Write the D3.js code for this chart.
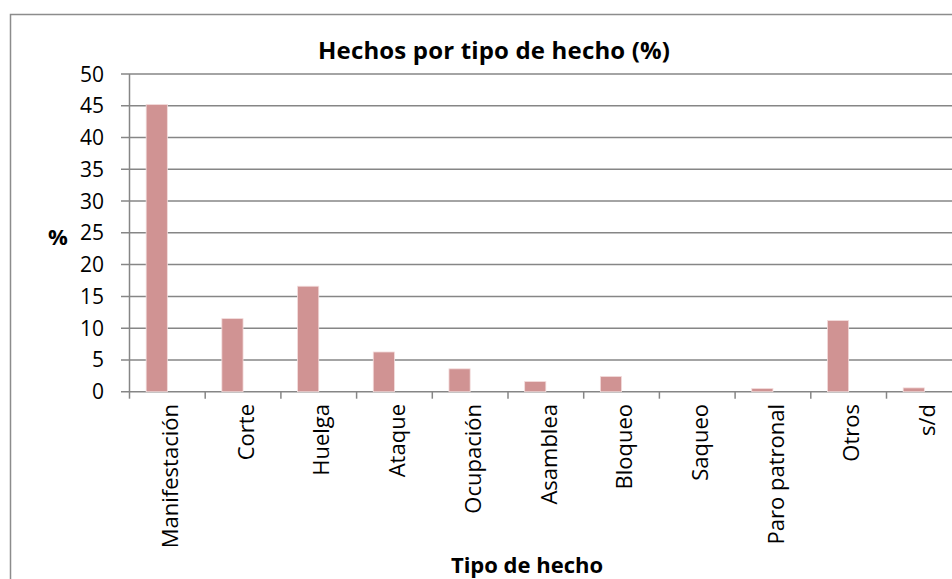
<!DOCTYPE html>
<html>
<head>
<meta charset="utf-8">
<script src="https://cdn.jsdelivr.net/npm/d3@7"></script>
<style>
  body { margin: 0; background: #fff; }
  svg { display: block; font-family: "Open Sans", sans-serif; }
</style>
</head>
<body>
<div class="canvas"></div>
<script>
const categories = ['Manifestación', 'Corte', 'Huelga', 'Ataque', 'Ocupación', 'Asamblea',
    'Bloqueo', 'Saqueo', 'Paro patronal', 'Otros', 's/d'];
const values = [45.2, 11.5, 16.6, 6.25, 3.6, 1.6, 2.4, 0, 0.5, 11.2, 0.6];
const yTicks = [0, 5, 10, 15, 20, 25, 30, 35, 40, 45, 50];

const dims = { width: 952, height: 579 };
const plot = { left: 129.5, top: 74, bandW: 75.7, bottom: 391.7 };

const svg = d3.select('.canvas')
    .append('svg')
    .attr('width', dims.width)
    .attr('height', dims.height);

// chart frame (runs off the right/bottom edge like the source)
svg.append('rect')
    .attr('x', 10.5).attr('y', 14.5)
    .attr('width', 960).attr('height', 600)
    .attr('fill', 'none')
    .attr('stroke', '#8c8c8c')
    .attr('stroke-width', 1.5);

const x = d3.scaleBand()
    .domain(categories)
    .range([plot.left, plot.left + plot.bandW * categories.length]);

const y = d3.scaleLinear()
    .domain([0, 50])
    .range([plot.bottom, plot.top]);

// gridlines
svg.append('g')
    .selectAll('line')
    .data(yTicks)
    .enter().append('line')
    .attr('x1', 121).attr('x2', dims.width)
    .attr('y1', d => y(d)).attr('y2', d => y(d))
    .attr('stroke', '#868686')
    .attr('stroke-width', 1.5);

// y axis line
svg.append('line')
    .attr('x1', plot.left).attr('x2', plot.left)
    .attr('y1', plot.top).attr('y2', plot.bottom)
    .attr('stroke', '#868686')
    .attr('stroke-width', 1.5);

// y tick labels
svg.append('g')
    .selectAll('text')
    .data(yTicks)
    .enter().append('text')
    .attr('x', 104)
    .attr('y', d => y(d))
    .attr('dy', '0.36em')
    .attr('text-anchor', 'end')
    .attr('font-size', 21)
    .attr('fill', '#000')
    .text(d => d);

// x ticks at band edges
const edges = categories.map(c => x(c)).concat([x(categories[categories.length - 1]) + x.bandwidth()]);
svg.append('g')
    .selectAll('line')
    .data(edges)
    .enter().append('line')
    .attr('x1', d => d).attr('x2', d => d)
    .attr('y1', plot.bottom).attr('y2', plot.bottom + 7)
    .attr('stroke', '#868686')
    .attr('stroke-width', 1.5);

// bars
const barW = x.bandwidth() * 0.28;
svg.append('g')
    .selectAll('rect')
    .data(values)
    .enter().append('rect')
    .attr('x', (d, i) => x(categories[i]) + x.bandwidth() * 0.22)
    .attr('y', d => y(d))
    .attr('width', barW)
    .attr('height', d => y(0) - y(d))
    .attr('fill', '#d09393')
    .attr('stroke', '#f3dcdc')
    .attr('stroke-width', 0.8);

// x labels, rotated
svg.append('g')
    .selectAll('text')
    .data(categories)
    .enter().append('text')
    .attr('transform', d => `translate(${x(d) + x.bandwidth() / 2 + 3}, 404) rotate(-90)`)
    .attr('dy', '0.35em')
    .attr('text-anchor', 'end')
    .attr('font-size', 22)
    .attr('fill', '#000')
    .text(d => d);

// titles
svg.append('text')
    .attr('x', 494).attr('y', 59)
    .attr('text-anchor', 'middle')
    .attr('font-size', 24)
    .attr('font-weight', 'bold')
    .attr('textLength', 352)
    .text('Hechos por tipo de hecho (%)');

svg.append('text')
    .attr('x', 527).attr('y', 573)
    .attr('text-anchor', 'middle')
    .attr('font-size', 22)
    .attr('font-weight', 'bold')
    .text('Tipo de hecho');

svg.append('text')
    .attr('x', 58).attr('y', 237)
    .attr('dy', '0.35em')
    .attr('text-anchor', 'middle')
    .attr('font-size', 22)
    .attr('font-weight', 'bold')
    .text('%');
</script>
</body>
</html>
